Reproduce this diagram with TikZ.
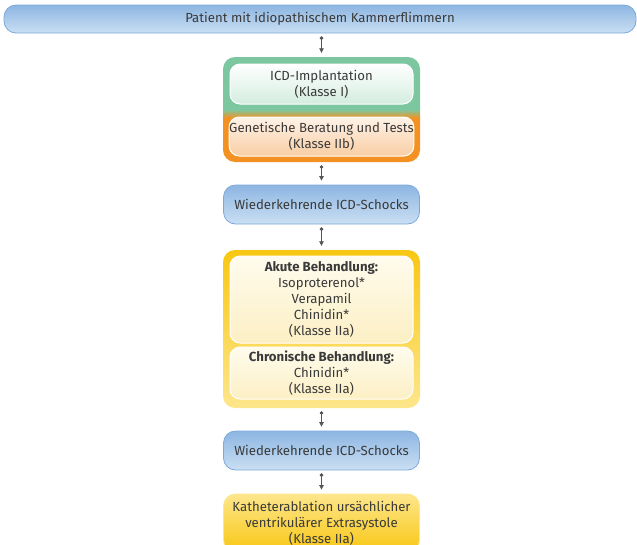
\documentclass[tikz,border=0pt]{standalone}
\usepackage{fontspec}
\setmainfont{Fira Sans}
\usetikzlibrary{arrows.meta}

\definecolor{txtgray}{HTML}{3A3A3A}
\definecolor{blueTop}{HTML}{8DB6E2}
\definecolor{blueBot}{HTML}{CADFF3}
\definecolor{blueLine}{HTML}{7DA9D9}
\definecolor{icdGreen}{HTML}{7CC7A0}
\definecolor{genOrange}{HTML}{F39222}
\definecolor{greenIn}{HTML}{D3EDDF}
\definecolor{orangeIn}{HTML}{F8CDA3}
\definecolor{orangeInTop}{HTML}{FFF3E8}
\definecolor{yelDark}{HTML}{F8C713}
\definecolor{yelLight}{HTML}{FDE68C}
\definecolor{creamTop}{HTML}{FFFCEE}
\definecolor{creamBot}{HTML}{FCEFC4}
\definecolor{arrowgray}{HTML}{555555}

\pgfdeclareverticalshading{greenorange}{100bp}{color(0bp)=(genOrange); color(46bp)=(genOrange); color(50bp)=(icdGreen); color(100bp)=(icdGreen)}
\pgfdeclareverticalshading{yellowframe}{100bp}{color(0bp)=(yelLight); color(25bp)=(yelLight); color(75bp)=(yelDark); color(100bp)=(yelDark)}

\tikzset{
  every node/.style={text=txtgray, font=\fontsize{13.2}{16}\selectfont, align=center},
  bluebox/.style={rounded corners=12pt, draw=blueLine, line width=0.8pt, top color=blueTop, bottom color=blueBot, inner sep=0pt},
  frame/.style={rounded corners=12pt, inner sep=0pt},
  innerbox/.style={rounded corners=10pt, draw=white, line width=1pt, inner sep=0pt, minimum width=183pt},
  link/.style={draw=arrowgray, line width=0.8pt, {Circle[length=3.5pt]}-{Triangle[length=4.5pt,width=4.5pt]}, shorten <=3pt, shorten >=4pt},
}

\begin{document}
\begin{tikzpicture}[x=1pt, y=-1pt]
  \useasboundingbox (0,0) rectangle (637,544);
  \clip (0,0) rectangle (637,544);

  % start
  \node[bluebox, minimum width=632pt, minimum height=28pt] (patient) at (320,19) {Patient mit idiopathischem Kammerflimmern};

  % ICD + genetics
  \node[frame, shading=greenorange, minimum width=197pt, minimum height=105pt] (icdframe) at (321.5,109.5) {};
  \node[innerbox, top color=white, bottom color=greenIn, minimum height=40pt] (icd) at (321.5,84) {ICD-Implantation\\(Klasse I)};
  \node[innerbox, top color=orangeInTop, bottom color=orangeIn, minimum height=39pt] (gen) at (321.5,136.5) {Genetische Beratung und Tests\\(Klasse IIb)};

  \node[bluebox, minimum width=196pt, minimum height=39pt] (shock1) at (321.5,204.5) {Wiederkehrende ICD-Schocks};

  % drug therapy
  \node[frame, shading=yellowframe, minimum width=197pt, minimum height=158pt] (drugframe) at (321.5,329) {};
  \node[innerbox, top color=creamTop, bottom color=creamBot, minimum height=87pt] (acute) at (321.5,299.5) {\textbf{Akute Behandlung:}\\Isoproterenol*\\Verapamil\\Chinidin*\\(Klasse IIa)};
  \node[innerbox, top color=creamTop, bottom color=creamBot, minimum height=52pt] (chronic) at (321.5,373) {\textbf{Chronische Behandlung:}\\Chinidin*\\(Klasse IIa)};

  \node[bluebox, minimum width=196pt, minimum height=39pt] (shock2) at (321.5,450.5) {Wiederkehrende ICD-Schocks};

  \node[frame, draw=yelLight, line width=0.8pt, top color=yelLight, bottom color=yelDark, minimum width=196pt, minimum height=58pt] (ablation) at (321.5,523) {Katheterablation ursächlicher\\ventrikulärer Extrasystole\\(Klasse IIa)};

  % arrows
  \draw[link] (patient.south -| icdframe.north) -- (icdframe.north);
  \draw[link] (icdframe.south) -- (shock1.north);
  \draw[link] (shock1.south) -- (drugframe.north);
  \draw[link] (drugframe.south) -- (shock2.north);
  \draw[link] (shock2.south) -- (ablation.north);
\end{tikzpicture}
\end{document}
